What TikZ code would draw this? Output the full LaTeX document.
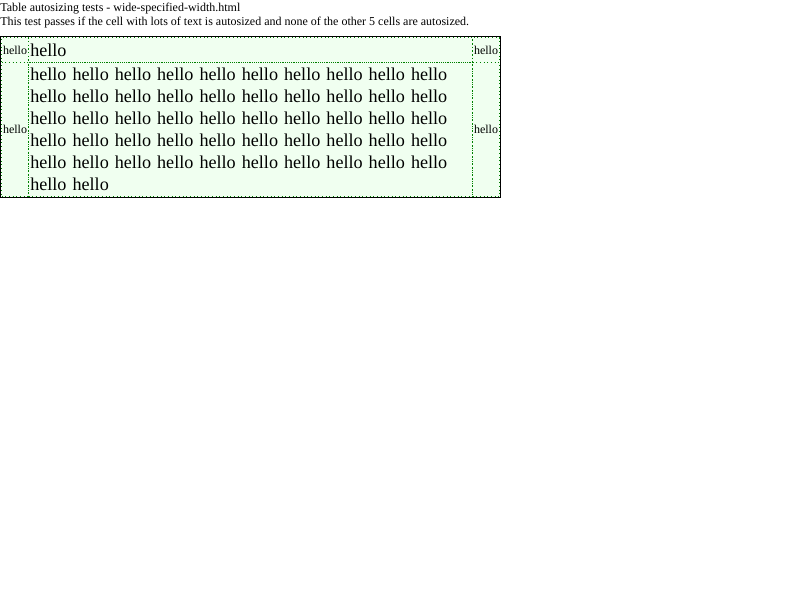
\documentclass[tikz,border=0pt]{standalone}
\usepackage{fontspec}
\setmainfont{Liberation Serif}
\usetikzlibrary{positioning}

\definecolor{cellbg}{HTML}{F0FFF0}
\definecolor{cellline}{HTML}{008000}

\tikzset{
	cell/.style={draw=cellline, dotted, line width=0.75pt, fill=cellbg, inner sep=0pt, outer sep=0pt, anchor=north west},
	small/.style={font=\fontsize{9}{10.5}\selectfont, inner sep=0pt},
	big/.style={font=\fontsize{13.6}{16.5}\selectfont, inner sep=0pt}
}

\begin{document}
\begin{tikzpicture}[x=0.75pt, y=-0.75pt]
			\useasboundingbox (0,0) rectangle (800,600);

			\node[small, anchor=north west] (title) at (0,3) {Table autosizing tests - wide-specified-width.html};
			\node[small, below=1.5pt of title.south west, anchor=north west] (desc) {This test passes if the cell with lots of text is autosized and none of the other 5 cells are autosized.};

			% first row
			\node[cell, minimum width=27*0.75pt, minimum height=25*0.75pt] (a1) at (1.5,37.5) {};
			\node[cell, minimum width=444*0.75pt, minimum height=25*0.75pt] (b1) at (28.5,37.5) {};
			\node[cell, minimum width=27*0.75pt, minimum height=25*0.75pt] (c1) at (472.5,37.5) {};
			% second row
			\node[cell, minimum width=27*0.75pt, minimum height=134*0.75pt] (a2) at (1.5,62.5) {};
			\node[cell, minimum width=444*0.75pt, minimum height=134*0.75pt] (b2) at (28.5,62.5) {};
			\node[cell, minimum width=27*0.75pt, minimum height=134*0.75pt] (c2) at (472.5,62.5) {};

			\draw[line width=0.75pt] (0.5,36.5) rectangle (500.5,197.5);

			\node[small] (ta1) at (a1) {hello};
			\node[small] (tc1) at (c1) {hello};
			\node[small] (ta2) at (a2) {hello};
			\node[small] (tc2) at (c2) {hello};
			\node[big, anchor=west] (tb1) at ([xshift=1.5*0.75pt]b1.west) {hello};
			\node[big, anchor=north west, text width=430*0.75pt, align=left] (tb2) at ([xshift=1.5*0.75pt, yshift=-5.5*0.75pt]b2.north west)
				{hello hello hello hello hello hello hello hello hello hello
				hello hello hello hello hello hello hello hello hello hello
				hello hello hello hello hello hello hello hello hello hello
				hello hello hello hello hello hello hello hello hello hello
				hello hello hello hello hello hello hello hello hello hello
				hello hello};
		\end{tikzpicture}
\end{document}
